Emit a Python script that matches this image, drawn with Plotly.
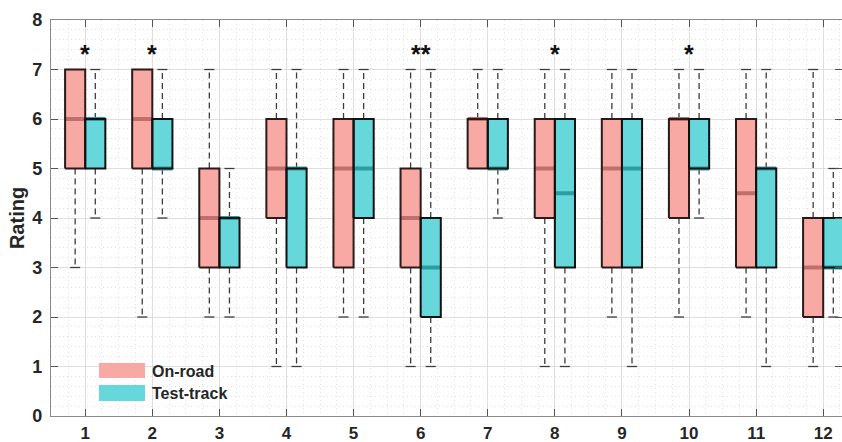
import plotly.graph_objects as go

# Scenario numbers on the x axis
scenarios = list(range(1, 13))

# Box statistics per scenario: lower whisker, Q1, median, Q3, upper whisker
onroad_low = [3, 2, 2, 1, 2, 1, 5, 1, 2, 2, 2, 1]
onroad_q1 = [5, 5, 3, 4, 3, 3, 5, 4, 3, 4, 3, 2]
onroad_med = [6, 6, 4, 5, 5, 4, 6, 5, 5, 6, 4.5, 3]
onroad_q3 = [7, 7, 5, 6, 6, 5, 6, 6, 6, 6, 6, 4]
onroad_high = [7, 7, 7, 7, 7, 7, 7, 7, 7, 7, 7, 7]

track_low = [4, 4, 2, 1, 2, 1, 4, 1, 1, 4, 1, 2]
track_q1 = [5, 5, 3, 3, 4, 2, 5, 3, 3, 5, 3, 3]
track_med = [6, 5, 4, 5, 5, 3, 5, 4.5, 5, 5, 5, 3]
track_q3 = [6, 6, 4, 5, 6, 4, 6, 6, 6, 6, 5, 4]
track_high = [7, 7, 5, 7, 7, 7, 7, 7, 7, 7, 7, 5]

# Significance markers
sig_scenarios = [1, 2, 6, 8, 10]
sig_labels = ["*", "*", "**", "*", "*"]

series_names = ["On-road", "Test-track"]
y_ticks = [0, 1, 2, 3, 4, 5, 6, 7, 8]

FONT = "Liberation Sans, Arial, sans-serif"
TXT = "#262626"
ONROAD_FILL = "#F8A9A4"
TRACK_FILL = "#66D8DC"
ONROAD_MED = "#C0706C"
TRACK_MED = "#2A9EA2"
BOX_W = 0.3
WHISK_OFF = 0.15
CAP_HALF = 0.075

fig = go.Figure()

groups = [
    (series_names[0], onroad_low, onroad_q1, onroad_med, onroad_q3, onroad_high, -1, ONROAD_FILL, ONROAD_MED, "#2a1a1a"),
    (series_names[1], track_low, track_q1, track_med, track_q3, track_high, 1, TRACK_FILL, TRACK_MED, "#111111"),
]

# whiskers (dashed) and caps go underneath the boxes
for name, lo, q1, med, q3, hi, side, fill, medc, edge in groups:
    wx, wy, cx, cy = [], [], [], []
    for s, a, b, d, e in zip(scenarios, lo, q1, q3, hi):
        xw = s + side * WHISK_OFF
        if e > d:
            wx += [xw, xw, None]; wy += [d, e, None]
            cx += [xw - CAP_HALF, xw + CAP_HALF, None]; cy += [e, e, None]
        if a < b:
            wx += [xw, xw, None]; wy += [b, a, None]
            cx += [xw - CAP_HALF, xw + CAP_HALF, None]; cy += [a, a, None]
    fig.add_trace(go.Scatter(x=wx, y=wy, mode="lines", showlegend=False, hoverinfo="skip",
                             line=dict(color="#3c3c3c", width=1.3, dash="6px,4px")))
    fig.add_trace(go.Scatter(x=cx, y=cy, mode="lines", showlegend=False, hoverinfo="skip",
                             line=dict(color="#3c3c3c", width=1.3)))

# box fills
for name, lo, q1, med, q3, hi, side, fill, medc, edge in groups:
    fig.add_trace(go.Bar(
        x=scenarios, y=[b - a for a, b in zip(q1, q3)], base=q1,
        width=BOX_W, offset=-BOX_W if side < 0 else 0,
        marker=dict(color=fill, line=dict(width=0)), name=name, showlegend=False,
    ))

# medians
for name, lo, q1, med, q3, hi, side, fill, medc, edge in groups:
    mx, my = [], []
    for s, m in zip(scenarios, med):
        x0 = s - BOX_W if side < 0 else s
        mx += [x0, x0 + BOX_W, None]; my += [m, m, None]
    fig.add_trace(go.Scatter(x=mx, y=my, mode="lines", showlegend=False, hoverinfo="skip",
                             line=dict(color=medc, width=4)))

# box outlines on top
for name, lo, q1, med, q3, hi, side, fill, medc, edge in groups:
    ox, oy = [], []
    for s, a, b in zip(scenarios, q1, q3):
        x0 = s - BOX_W if side < 0 else s
        ox += [x0, x0 + BOX_W, x0 + BOX_W, x0, x0, None]
        oy += [a, a, b, b, a, None]
    fig.add_trace(go.Scatter(x=ox, y=oy, mode="lines", showlegend=False, hoverinfo="skip",
                             line=dict(color=edge, width=2)))

# significance stars
for s, lab in zip(sig_scenarios, sig_labels):
    fig.add_annotation(x=s, y=7.32, text="<b>%s</b>" % lab, showarrow=False,
                       font=dict(family=FONT, size=25, color="#111111"),
                       xanchor="center", yanchor="middle")

# legend drawn as patches + labels
L, R, T, B = 51, 842, 20, 416
def px(v):
    return (v - L) / (R - L)
def py(v):
    return (B - v) / (B - T)

legend_rows = [(series_names[0], ONROAD_FILL, 363, 378, 371),
               (series_names[1], TRACK_FILL, 385, 401, 393)]
for lab, col, y0, y1, yc in legend_rows:
    fig.add_shape(type="rect", xref="paper", yref="paper",
                  x0=px(99), x1=px(145), y0=py(y1), y1=py(y0),
                  fillcolor=col, line=dict(width=0), layer="above")
    fig.add_annotation(xref="paper", yref="paper", x=px(150), y=py(yc),
                       text="<b>%s</b>" % lab, showarrow=False,
                       xanchor="left", yanchor="middle",
                       font=dict(family=FONT, size=16, color=TXT))

axis_common = dict(
    showline=True, linecolor="#8a8a8a", linewidth=1.2, mirror="ticks",
    ticks="inside", ticklen=7, tickcolor="#555555", tickwidth=1,
    showgrid=True, gridcolor="#dedede", gridwidth=1,
    zeroline=False, automargin=False,
)

minor_grid = dict(showgrid=True, gridcolor="#e2e2e2", griddash="1px,3px", gridwidth=1, ticks="")

fig.update_xaxes(
    range=[0.49, 12.28], tickmode="array", tickvals=scenarios,
    ticktext=["<b>%d</b>" % s for s in scenarios],
    minor=dict(dtick=0.25, tick0=0, **minor_grid),
    ticklabelstandoff=1,
    tickfont=dict(family=FONT, size=17, color=TXT),
    **axis_common,
)
fig.update_yaxes(
    range=[0, 8], tickmode="array", tickvals=y_ticks,
    ticktext=["<b>%d</b>" % v for v in y_ticks],
    minor=dict(dtick=0.2, tick0=0, **minor_grid),
    ticklabelstandoff=4,
    tickfont=dict(family=FONT, size=18, color=TXT),
    title=dict(text="<b>Rating</b>", font=dict(family=FONT, size=20, color=TXT), standoff=2),
    **axis_common,
)

fig.update_layout(
    width=842, height=442,
    margin=dict(l=51, r=0, t=20, b=26),
    paper_bgcolor="white", plot_bgcolor="white",
    barmode="overlay", bargap=0,
    showlegend=False,
)

fig.write_html("out.html")
